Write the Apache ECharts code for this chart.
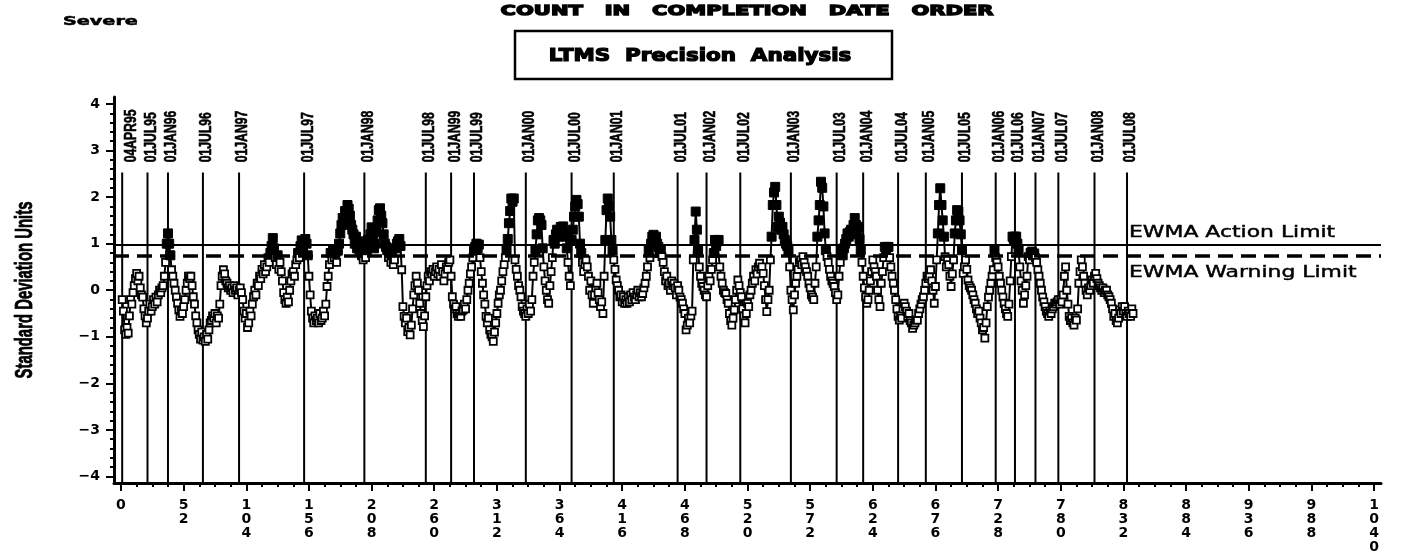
<!DOCTYPE html>
<html><head><meta charset="utf-8">
<script src="https://cdn.jsdelivr.net/npm/echarts@6/dist/echarts.min.js"></script>
<style>html,body{margin:0;padding:0;background:#fff}#c{width:1421px;height:560px}</style>
</head><body><div id="c"></div>
<script>
// ---- data ----
const xTicks = [0,52,104,156,208,260,312,364,416,468,520,572,624,676,728,780,832,884,936,988,1040];
const yTicks = [-4,-3,-2,-1,0,1,2,3,4];
const actionLimit = 0.97;
const warningLimit = 0.745;
const refLabels = ['04APR95','01JUL95','01JAN96','01JUL96','01JAN97','01JUL97','01JAN98','01JUL98','01JAN99','01JUL99',
  '01JAN00','01JUL00','01JAN01','01JUL01','01JAN02','01JUL02','01JAN03','01JUL03','01JAN04','01JUL04',
  '01JAN05','01JUL05','01JAN06','01JUL06','01JAN07','01JUL07','01JAN08','01JUL08'];
const refCounts = [1,22,39,68,98,152,202,253,274,293,336,374,409,462,486,514,556,594,616,645,668,698,726,742,759,778,808,835];
// standard deviation units, in completion-date order (count 1..N)
const sdu = [
-0.20,-0.45,-0.85,-0.95,-0.80,-0.92,-0.55,-0.20,-0.30,-0.05,
0.10,0.25,0.36,0.20,0.30,0.05,-0.10,-0.15,-0.40,-0.55,
-0.70,-0.60,-0.45,-0.30,-0.45,-0.35,-0.20,-0.30,-0.15,-0.25,
-0.10,0.00,-0.05,0.05,0.10,0.30,0.60,1.00,1.22,1.00,
0.75,0.44,0.30,0.15,0.00,-0.15,-0.28,-0.42,-0.56,-0.45,
-0.50,-0.35,-0.20,0.00,0.15,0.30,0.25,0.30,0.10,-0.14,
-0.30,-0.55,-0.70,-0.85,-0.95,-1.05,-0.90,-1.07,-1.00,-1.10,
-0.95,-1.05,-0.85,-0.70,-0.65,-0.55,-0.60,-0.50,-0.70,-0.55,
-0.60,-0.30,0.10,0.30,0.44,0.35,0.20,0.15,0.05,0.10,
0.00,0.05,-0.05,0.10,0.00,0.05,-0.10,0.00,0.05,-0.05,
-0.20,-0.45,-0.60,-0.50,-0.80,-0.70,-0.45,-0.55,-0.30,-0.14,
0.00,-0.10,0.15,0.10,0.30,0.25,0.45,0.35,0.55,0.40,
0.50,0.70,0.60,0.80,0.95,1.12,0.90,0.70,0.55,0.75,
0.45,0.60,0.40,0.20,-0.05,-0.20,-0.28,-0.15,-0.25,0.00,
0.20,0.35,0.40,0.30,0.55,0.65,0.80,0.70,0.95,1.07,
0.90,1.05,1.10,1.00,0.75,0.30,-0.10,-0.45,-0.60,-0.70,
-0.55,-0.65,-0.60,-0.70,-0.50,-0.65,-0.60,-0.45,-0.55,-0.30,
0.08,0.30,0.55,0.80,0.65,0.86,0.70,0.80,0.60,0.85,
1.00,1.22,1.40,1.55,1.45,1.70,1.60,1.83,1.75,1.60,
1.40,1.30,1.20,1.00,1.15,0.90,1.05,0.86,1.00,0.75,
0.65,0.80,0.70,0.86,1.08,0.95,1.20,1.35,1.10,0.90,
1.00,1.25,1.50,1.72,1.76,1.60,1.44,1.20,1.00,0.93,
0.86,0.70,0.80,0.60,0.75,0.55,0.65,0.90,1.00,1.05,
1.10,0.95,0.44,-0.35,-0.56,-0.70,-0.60,-0.89,-0.80,-0.96,
-0.75,-0.40,-0.10,0.10,0.30,0.15,0.00,-0.28,-0.50,-0.65,
-0.78,-0.55,-0.14,0.10,0.30,0.20,0.40,0.35,0.45,0.30,
0.40,0.50,0.35,0.45,0.30,0.55,0.40,0.20,0.35,0.50,
0.45,0.60,0.65,0.30,-0.14,-0.30,-0.40,-0.35,-0.50,-0.56,
-0.50,-0.56,-0.45,-0.42,-0.30,-0.40,-0.20,0.00,0.15,0.35,
0.50,0.70,0.85,0.93,1.00,0.90,0.98,0.70,0.40,0.15,
-0.10,-0.30,-0.56,-0.70,-0.60,-0.85,-0.95,-1.00,-1.10,-0.90,
-0.70,-0.50,-0.28,-0.10,0.00,0.20,0.40,0.55,0.70,0.86,
1.10,1.44,1.70,1.97,1.90,1.97,0.65,0.45,0.30,0.10,
0.00,-0.14,-0.35,-0.45,-0.50,-0.56,-0.40,-0.50,-0.30,-0.45,
-0.20,0.30,0.60,0.86,1.20,1.50,1.55,1.50,1.40,0.90,
0.50,0.20,0.00,-0.20,-0.28,0.10,0.40,0.70,1.08,1.00,
1.20,1.30,1.15,1.25,1.36,1.30,1.37,1.20,1.15,0.90,
0.60,0.30,0.10,1.08,1.30,1.58,1.80,1.94,1.85,1.58,
1.00,0.80,0.60,0.40,0.55,0.65,0.50,0.30,0.00,0.20,
-0.10,-0.28,-0.10,0.05,0.15,-0.05,-0.20,-0.35,-0.25,-0.50,
0.30,1.08,1.72,1.97,1.80,1.58,1.08,0.85,0.65,0.45,
0.22,0.10,0.00,-0.14,-0.10,-0.25,-0.14,-0.28,-0.20,-0.28,
-0.15,-0.25,-0.10,-0.20,-0.05,-0.15,-0.20,-0.10,0.00,-0.14,
-0.05,-0.14,-0.07,0.05,0.15,0.30,0.50,0.86,0.70,1.00,
1.15,1.19,1.05,1.15,1.00,0.93,0.80,0.86,0.72,0.60,
0.40,0.20,0.30,0.10,0.15,0.00,0.20,0.10,0.15,0.05,
-0.10,0.10,0.00,-0.15,-0.20,-0.28,-0.40,-0.50,-0.85,-0.75,
-0.60,-0.70,-0.55,-0.45,0.65,1.08,1.69,1.30,0.86,0.50,
0.30,0.15,0.08,0.00,-0.10,-0.14,0.10,0.30,0.20,0.45,
0.65,0.80,1.08,0.95,1.05,1.08,0.50,0.30,0.15,0.00,
-0.05,-0.07,-0.20,-0.28,-0.50,-0.65,-0.75,-0.60,-0.42,-0.20,
0.00,0.22,0.10,-0.05,-0.14,-0.40,-0.55,-0.70,-0.50,-0.28,
-0.35,-0.10,0.00,0.15,0.30,0.20,0.44,0.35,0.50,0.58,
0.45,0.50,0.36,0.10,-0.20,-0.46,-0.20,0.00,0.65,1.15,
1.83,2.10,2.22,1.83,1.36,1.58,1.45,1.30,1.36,1.20,
1.08,1.00,0.95,0.86,0.50,0.00,-0.20,-0.42,-0.10,0.15,
0.30,0.45,0.60,0.65,0.55,0.72,0.60,0.50,0.40,0.30,
0.15,0.05,-0.10,-0.15,-0.20,0.15,0.50,1.15,1.50,1.83,
2.33,2.20,1.80,1.22,0.86,0.72,0.60,0.45,0.30,0.20,
0.15,0.08,-0.05,-0.20,-0.10,0.30,0.60,0.86,0.75,0.90,
1.00,1.10,1.22,1.15,1.25,1.30,1.20,1.40,1.55,1.40,
1.25,1.36,1.10,0.86,0.60,0.30,0.05,-0.15,-0.28,-0.20,
0.00,0.20,0.40,0.65,0.50,0.40,0.30,0.00,-0.20,-0.35,
0.15,0.40,0.70,0.93,0.80,0.93,0.93,0.70,0.50,0.30,
0.15,0.00,-0.20,-0.40,-0.56,-0.64,-0.55,-0.60,-0.40,-0.28,
-0.35,-0.45,-0.56,-0.50,-0.65,-0.70,-0.82,-0.75,-0.70,-0.64,
-0.64,-0.50,-0.40,-0.30,-0.20,-0.14,0.00,0.15,0.30,0.25,
0.30,0.44,0.20,0.00,-0.28,0.08,0.65,1.22,1.83,2.19,
1.83,1.50,1.15,0.72,0.50,0.65,0.55,0.30,0.08,0.35,
0.65,1.22,1.50,1.72,1.69,1.50,1.20,0.86,0.36,0.50,
0.65,0.45,0.22,0.10,0.05,0.00,-0.10,-0.20,-0.28,-0.40,
-0.50,-0.45,-0.60,-0.70,-0.85,-0.80,-1.03,-0.70,-0.35,-0.15,
0.00,0.15,0.30,0.44,0.86,0.70,0.60,0.50,0.30,0.15,
0.00,-0.15,-0.28,-0.40,-0.50,-0.56,-0.30,0.20,0.72,1.15,
1.10,1.15,1.15,1.00,0.86,0.50,0.20,0.00,-0.28,-0.10,
0.10,0.30,0.72,0.65,0.80,0.83,0.75,0.79,0.70,0.60,
0.44,0.30,0.15,0.00,-0.15,-0.25,-0.35,-0.45,-0.50,-0.56,
-0.45,-0.50,-0.40,-0.35,-0.28,-0.30,-0.25,-0.20,-0.30,-0.20,
-0.25,-0.10,0.30,0.50,0.00,-0.30,-0.56,-0.65,-0.60,-0.70,
-0.75,-0.60,-0.64,-0.40,0.15,0.40,0.65,0.50,0.30,0.15,
0.00,-0.10,0.05,0.00,0.10,0.22,0.15,0.30,0.36,0.25,
0.15,0.10,0.05,0.00,0.05,-0.05,0.00,0.00,-0.10,-0.14,
-0.20,-0.28,-0.40,-0.56,-0.50,-0.65,-0.70,-0.60,-0.42,-0.50,
-0.35,-0.45,-0.35,-0.50,-0.56,-0.45,-0.50,-0.56,-0.40,-0.50
];

// ---- chart ----
const xMinorTicks = [];
for (let i = 0; i < xTicks.length - 1; i++) {
  const step = (xTicks[i+1] - xTicks[i]) / 4;
  for (let k = 1; k < 4; k++) xMinorTicks.push(xTicks[i] + k*step);
}
const yMinorTicks = [];
for (let i = 0; i < yTicks.length - 1; i++) {
  const step = (yTicks[i+1] - yTicks[i]) / 5;
  for (let k = 1; k < 5; k++) yMinorTicks.push(+(yTicks[i] + k*step).toFixed(2));
}
const X_MIN = -5.8, X_MAX = 1045.8, Y_MIN = -4.14, Y_MAX = 4.15;
const REF_TOP = 2.53, REF_LABEL_BASE = 2.75;

const pointData = sdu.map((v, i) => {
  const flagged = v > warningLimit;
  return {
    value: [i + 1, v],
    symbolSize: flagged ? 9 : 7,
    itemStyle: flagged
      ? { color: '#000', borderColor: '#000', borderWidth: 1 }
      : { color: '#fff', borderColor: '#000', borderWidth: 1.8 }
  };
});

const axisFont = { fontFamily: 'DejaVu Sans', fontWeight: 'bold', fontSize: 14, color: '#000' };
function txt(text, fam, size, weight, align, extra) {
  return Object.assign({ text: text, fontFamily: fam, fontSize: size, fontWeight: weight, fill: '#000',
    align: align, verticalAlign: 'middle', textAlign: align, textVerticalAlign: 'middle' }, extra || {});
}

const chart = echarts.init(document.getElementById('c'), null, { renderer: 'canvas' });
chart.setOption({
  animation: false,
  backgroundColor: '#fff',
  grid: { left: 114, top: 97, width: 1267, height: 386, containLabel: false },
  xAxis: [
    { type: 'value', min: X_MIN, max: X_MAX, position: 'bottom',
      axisLine: { show: true, onZero: false, lineStyle: { color: '#000', width: 3 } },
      axisTick: { show: true, customValues: xTicks, length: 8, lineStyle: { color: '#000', width: 2 } },
      axisLabel: { show: true, customValues: xTicks, margin: 15, lineHeight: 14, ...axisFont,
        formatter: v => String(v).split('').join('\n') },
      splitLine: { show: false } },
    { type: 'value', min: X_MIN, max: X_MAX, position: 'bottom',
      axisLine: { show: false, onZero: false },
      axisTick: { show: true, customValues: xMinorTicks, length: 4, lineStyle: { color: '#000', width: 2 } },
      axisLabel: { show: false }, splitLine: { show: false } }
  ],
  yAxis: [
    { type: 'value', min: Y_MIN, max: Y_MAX, position: 'left',
      axisLine: { show: true, onZero: false, lineStyle: { color: '#000', width: 3 } },
      axisTick: { show: true, customValues: yTicks, length: 8, lineStyle: { color: '#000', width: 2 } },
      axisLabel: { show: true, customValues: yTicks, margin: 14, ...axisFont,
        formatter: v => v < 0 ? '\u2212' + Math.abs(v) : String(v) },
      splitLine: { show: false } },
    { type: 'value', min: Y_MIN, max: Y_MAX, position: 'left',
      axisLine: { show: false, onZero: false },
      axisTick: { show: true, customValues: yMinorTicks, length: 4, lineStyle: { color: '#000', width: 2 } },
      axisLabel: { show: false }, splitLine: { show: false } }
  ],
  series: [
    { type: 'custom', name: 'refs', xAxisIndex: 0, yAxisIndex: 0, z: 1, silent: true, clip: false,
      data: refCounts.map((c, i) => [c, i]),
      renderItem: (params, api) => {
        const x = api.value(0);
        const bottom = api.coord([x, Y_MIN]);
        const top = api.coord([x, REF_TOP]);
        const lab = api.coord([x, REF_LABEL_BASE]);
        const idx = api.value(1);
        return { type: 'group', children: [
          { type: 'line', shape: { x1: bottom[0], y1: bottom[1], x2: top[0], y2: top[1] },
            style: { stroke: '#000', lineWidth: 2 } },
          { type: 'text', x: lab[0] + (idx === 0 ? 9 : 4), y: lab[1], rotation: Math.PI / 2, scaleX: 0.76,
            style: txt(refLabels[idx], 'Liberation Sans', 16, 'bold', 'left', { stroke: '#000', lineWidth: 0.6 }) }
        ] };
      } },
    { type: 'line', name: 'SDU', xAxisIndex: 0, yAxisIndex: 0, z: 3, silent: true,
      data: pointData, symbol: 'rect', showSymbol: true,
      lineStyle: { color: '#000', width: 2 },
      markLine: { silent: true, symbol: 'none', label: { show: false },
        data: [
          { yAxis: actionLimit, lineStyle: { color: '#000', width: 2, type: 'solid' } },
          { yAxis: warningLimit, lineStyle: { color: '#000', width: 3.5, type: [15, 8] } }
        ] } }
  ],
  graphic: [
    { type: 'text', x: 63, y: 22, scaleX: 1.6,
      style: txt('Severe', 'DejaVu Sans', 12, 'bold', 'left', { stroke: '#000', lineWidth: 0.5 }) },
    { type: 'text', x: 747, y: 11, scaleX: 1.5,
      style: txt('COUNT   IN   COMPLETION   DATE   ORDER', 'DejaVu Sans', 14, 'bold', 'center', { stroke: '#000', lineWidth: 1.3 }) },
    { type: 'rect', shape: { x: 515, y: 31, width: 377, height: 48 },
      style: { fill: 'none', stroke: '#000', lineWidth: 2.5 } },
    { type: 'text', x: 700, y: 57, scaleX: 1.26,
      style: txt('LTMS  Precision  Analysis', 'DejaVu Sans', 17, 'bold', 'center', { stroke: '#000', lineWidth: 1.2 }) },
    { type: 'text', x: 1129, y: 233, scaleX: 1.46,
      style: txt('EWMA Action Limit', 'DejaVu Sans', 15, 'normal', 'left', { stroke: '#000', lineWidth: 0.4 }) },
    { type: 'text', x: 1129, y: 273, scaleX: 1.46,
      style: txt('EWMA Warning Limit', 'DejaVu Sans', 15, 'normal', 'left', { stroke: '#000', lineWidth: 0.4 }) },
    { type: 'text', x: 25, y: 290, rotation: Math.PI / 2, scaleX: 0.62,
      style: txt('Standard Deviation Units', 'Liberation Sans', 24, 'bold', 'center', { stroke: '#000', lineWidth: 0.8 }) }
  ]
});
</script>
</body></html>
